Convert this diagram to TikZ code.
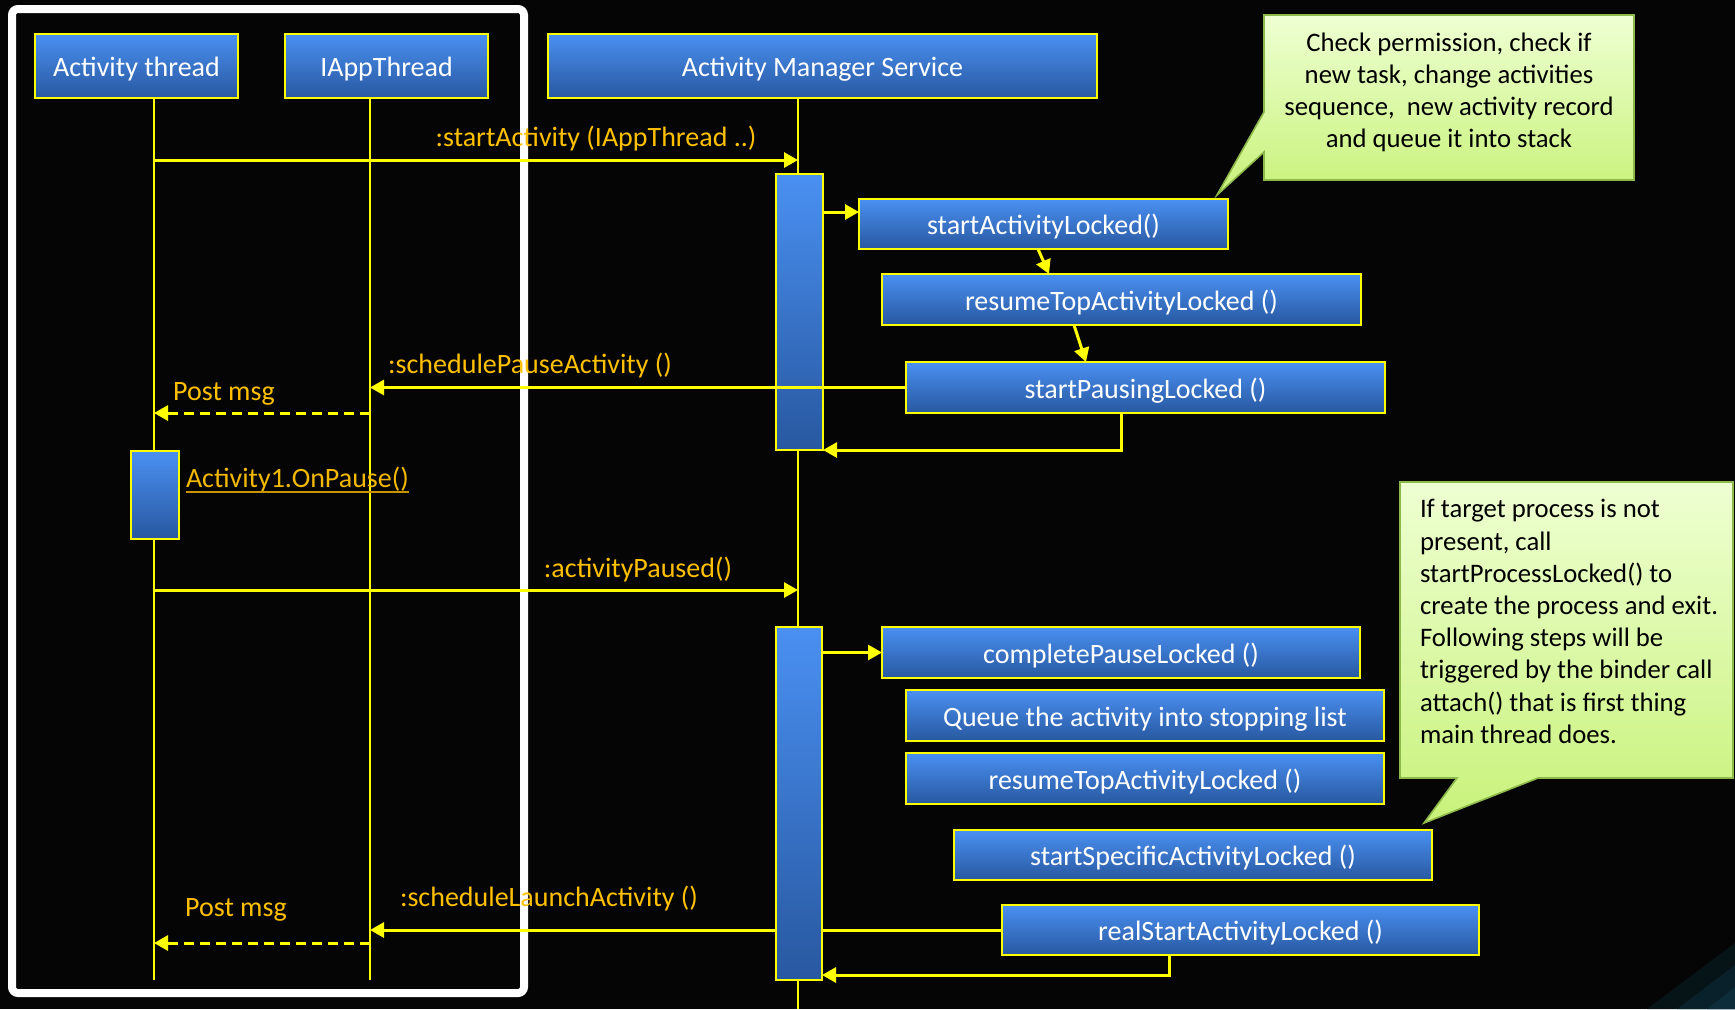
\documentclass[tikz,border=0pt]{standalone}
\usepackage{fontspec}
\setmainfont{Carlito}
\usetikzlibrary{arrows.meta}

\definecolor{bg}{HTML}{050505}
\definecolor{boxtop}{HTML}{4A90F2}
\definecolor{boxbot}{HTML}{2858A0}
\definecolor{lineyel}{HTML}{FFFF00}
\definecolor{msgtxt}{HTML}{FFC000}
\definecolor{linktxt}{HTML}{F2B800}
\definecolor{linkline}{HTML}{C89400}
\definecolor{notetop}{HTML}{EEFFD2}
\definecolor{notebot}{HTML}{C8F27A}
\definecolor{noteedge}{HTML}{8DB84A}
\definecolor{stripeA}{HTML}{061417}
\definecolor{stripeB}{HTML}{09212A}
\definecolor{stripeC}{HTML}{0C2D39}

\begin{document}
\begin{tikzpicture}[x=0.5pt,y=-0.5pt,
  every node/.style={inner sep=0pt, outer sep=0pt},
  sz/.style 2 args={minimum width={#1*0.5pt}, minimum height={#2*0.5pt}},
  blk/.style={rectangle, draw=lineyel, line width=1.3pt,
    top color=boxtop, bottom color=boxbot, text=white,
    text height=13.4pt, text depth=2.7pt,
    font=\fontsize{14pt}{16pt}\selectfont},
  bar/.style={rectangle, draw=lineyel, line width=1pt,
    top color=boxtop, bottom color=boxbot},
  life/.style={draw=lineyel, line width=0.8pt},
  msg/.style={draw=lineyel, line width=1.5pt,
    -{Triangle[length=7pt,width=7.5pt]}},
  dsh/.style={msg, dash pattern=on 5pt off 3pt},
  lbl/.style={text=msgtxt, font=\fontsize{14pt}{16pt}\selectfont},
  note/.style={draw=noteedge, line width=0.8pt,
    top color=notetop, bottom color=notebot},
  notetext/.style={text=black, font=\fontsize{13.35pt}{16.1pt}\selectfont}
]
\useasboundingbox (0,0) rectangle (1735,1009);

% backdrop
\fill[bg] (0,0) rectangle (1735,1009);
\fill[stripeA] (1735,943) -- (1735,1009) -- (1647,1009) -- cycle;
\fill[stripeB] (1735,965) -- (1735,1009) -- (1677,1009) -- cycle;
\fill[stripeC] (1735,987) -- (1735,1009) -- (1707,1009) -- cycle;

% client side frame
\draw[white, line width=4pt, rounded corners=3pt] (12,9) rectangle (524,993);

% participants
\node[blk, sz={203}{64}] (at)  at (136.5,66) {Activity thread};
\node[blk, sz={203}{64}] (iat) at (386.5,66) {IAppThread};
\node[blk, sz={549}{64}] (ams) at (822.5,66) {Activity Manager Service};

% lifeline ends
\coordinate (atEnd)  at (154,980);
\coordinate (iaEnd)  at (370,980);
\coordinate (amsEnd) at (798,1009);
\draw[life] (at.south -| atEnd) -- (atEnd);
\draw[life] (iat.south -| iaEnd) -- (iaEnd);
\draw[life] (ams.south -| amsEnd) -- (amsEnd);

% startActivity call
\draw[msg] (atEnd |- 0,160) -- (amsEnd |- 0,160);
\node[lbl] (l1) at (596,139) {:startActivity (IAppThread ..)};

% first activation on the service
\node[bar, sz={47}{276}] (bar1) at (799.5,312) {};

\node[blk, sz={369}{50}] (sal)  at (1043.5,224)  {startActivityLocked()};
\node[blk, sz={479}{51}] (rta1) at (1121.5,299.5) {resumeTopActivityLocked ()};
\node[blk, sz={479}{51}] (spl)  at (1145.5,387.5) {startPausingLocked ()};

\draw[msg] (bar1.east |- 0,212) -- (sal.west |- 0,212);
\draw[msg] (sal.south -| 1038,0) -- (rta1.north -| 1049,0);
\draw[msg] (rta1.south -| 1074,0) -- (spl.north -| 1086,0);
\draw[msg] (spl.west) -- (spl.west -| iaEnd);
\draw[msg] (spl.south -| 1121,0) |- (bar1.south east);
\node[lbl] (l2) at (530,366) {:schedulePauseActivity ()};

% pause on the client
\node[lbl] (pm1) at (224,394) {Post msg};
\draw[dsh] (iaEnd |- 0,413) -- (atEnd |- 0,413);
\node[bar, sz={48}{88}] (bar0) at (155,495) {};
\node[text=linktxt, font=\fontsize{14pt}{16pt}\selectfont, anchor=west] (onp) at (186,479) {Activity1.OnPause()};
\draw[linkline, line width=1pt] ([yshift=-2.6pt]onp.base west) -- ([yshift=-2.6pt]onp.base east);

% activityPaused call
\draw[msg] (atEnd |- 0,590) -- (amsEnd |- 0,590);
\node[lbl] (l3) at (638,569) {:activityPaused()};

% launch message passes behind the second activation
\node[blk, sz={477}{50}] (rsal) at (1240.5,930) {realStartActivityLocked ()};
\draw[msg] (rsal.west) -- (rsal.west -| iaEnd);
\node[lbl] (l4) at (549,898) {:scheduleLaunchActivity ()};
\node[lbl] (pm2) at (236,910) {Post msg};
\draw[dsh] (iaEnd |- 0,943) -- (atEnd |- 0,943);

% second activation on the service
\node[bar, sz={46}{353}] (bar2) at (799,803.5) {};

\node[blk, sz={478}{51}] (cpl)  at (1121,652.5) {completePauseLocked ()};
\node[blk, sz={478}{51}] (q)    at (1145,715.5) {Queue the activity into stopping list};
\node[blk, sz={478}{51}] (rta2) at (1145,778.5) {resumeTopActivityLocked ()};
\node[blk, sz={478}{50}] (ssal) at (1193,855)   {startSpecificActivityLocked ()};

\draw[msg] (bar2.east |- cpl.west) -- (cpl.west);
\draw[msg] (rsal.south -| 1169,0) |- (bar2.east |- 0,975);

% callout notes
\path[note] (1264,15) -- (1634,15) -- (1634,180) -- (1264,180) -- (1264,152)
  -- (1217,195) -- (1264,112) -- cycle;
\node[notetext, align=center] (n1) at (1449,92.5)
  {Check permission, check if\\new task, change activities\\sequence,\ \ new activity record\\and queue it into stack};

\path[note] (1400,482) -- (1733,482) -- (1733,778) -- (1538,778) -- (1424,823)
  -- (1457,778) -- (1400,778) -- cycle;
\node[notetext, align=left, anchor=west] (n2) at (1420,621.5)
  {If target process is not\\present, call\\startProcessLocked() to\\create the process and exit.\\Following steps will be\\triggered by the binder call\\attach() that is first thing\\main thread does.};
\end{tikzpicture}
\end{document}
